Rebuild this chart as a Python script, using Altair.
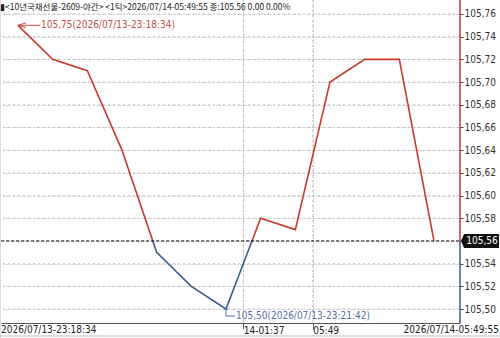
import altair as alt
import pandas as pd

# ---- data ----
idx = list(range(13))
prices = [105.75, 105.72, 105.71, 105.64, 105.55, 105.52, 105.50,
          105.58, 105.57, 105.70, 105.72, 105.72, 105.56]
y_ticks = [105.50, 105.52, 105.54, 105.56, 105.58, 105.60, 105.62,
           105.64, 105.66, 105.68, 105.70, 105.72, 105.74, 105.76]
x_domain = [-0.49, 12.75]
y_domain = [105.4877, 105.7723]
mid_ticks = [6.5, 8.5]
mid_labels = ["14-01:37", "05:49"]
first_time = "2026/07/13-23:18:34"
last_time = "2026/07/14-05:49:55"
min_time = "2026/07/13-23:21:42"
header = "▮<10년국채선물-2609-야간> <1틱>2026/07/14-05:49:55 종:105.56 0.00 0.00%"

RED = "#c83a2e"
BLUE = "#3d5b8e"
RED_T = "#c0504a"
BLUE_T = "#55709f"
FONT = "DejaVu Sans Condensed"
KFONT = "Noto Sans CJK KR"

W, H = 459, 323

df = pd.DataFrame({"i": idx, "p": prices})
last_price = prices[-1]
hi = max(prices)
lo = min(prices)
hi_i = prices.index(hi)
lo_i = prices.index(lo)
split = (hi - last_price) / (hi - lo)

def fmt(v):
    return f"{v:.2f}".replace(".", ",")

label_expr = " : ".join(
    [f"datum.value == {t} ? '{l}'" for t, l in zip(mid_ticks, mid_labels)] + ["''"]
)
y_label_expr = (f"abs(datum.value - {last_price}) < 0.001 ? '' : "
                "replace(format(datum.value, '.2f'), '.', ',')")

x_scale = alt.Scale(domain=x_domain, nice=False, zero=False)
y_scale = alt.Scale(domain=y_domain, nice=False, zero=False)

x_axis = alt.Axis(values=mid_ticks, labelExpr=label_expr, title=None,
                  grid=True, gridDash=[1, 2], gridColor="#9e9e9e", gridWidth=1,
                  domainColor="#555", tickColor="#555", tickSize=6,
                  labelAlign="left", labelPadding=-4, labelFontSize=10,
                  labelOverlap=False, labelFont=FONT, labelColor="#222")
y_axis = alt.Axis(orient="right", values=y_ticks, labelExpr=y_label_expr,
                  title=None, grid=True, gridDash=[1, 2], gridColor="#a6a6a6",
                  gridWidth=1,
                  labelOverlap=False, labelFlush=False, labelBound=False,
                  domain=False, tickSize=3, tickColor="#444", labelPadding=1,
                  labelFontSize=10, labelFont=FONT, labelColor="#333")


def XD(v):
    return alt.X(datum=v, type="quantitative", scale=x_scale, axis=x_axis)


def YD(v):
    return alt.Y(datum=v, type="quantitative", scale=y_scale, axis=y_axis)


grad = alt.Gradient(gradient="linear", x1=0, x2=0, y1=0, y2=1,
                    stops=[alt.GradientStop(color=RED, offset=0),
                           alt.GradientStop(color=RED, offset=split),
                           alt.GradientStop(color=BLUE, offset=split),
                           alt.GradientStop(color=BLUE, offset=1)])

# dotted gridlines drawn from the tick lists
hgrid = alt.Chart(pd.DataFrame({"p": y_ticks})).mark_rule(
    color="#c6c6c6", strokeDash=[2, 3], strokeWidth=1).encode(
    y=alt.Y("p:Q", scale=y_scale, axis=y_axis))
vgrid = alt.Chart(pd.DataFrame({"i": mid_ticks})).mark_rule(
    color="#c6c6c6", strokeDash=[2, 3], strokeWidth=1).encode(
    x=alt.X("i:Q", scale=x_scale, axis=x_axis))

line = alt.Chart(df).mark_line(stroke=grad, strokeWidth=1.6).encode(
    x=alt.X("i:Q", scale=x_scale, axis=x_axis),
    y=alt.Y("p:Q", scale=y_scale, axis=y_axis))

one = alt.Chart(pd.DataFrame({"k": [0]}))

ref = one.mark_rule(color="#111", strokeDash=[3, 2], strokeWidth=1).encode(
    y=YD(last_price), x=alt.value(0), x2=alt.value(W))
axis_red = one.mark_rule(color=RED, strokeWidth=1.5).encode(
    x=alt.value(W), y=YD(last_price), y2=alt.value(0))
axis_blue = one.mark_rule(color=BLUE, strokeWidth=1.5).encode(
    x=alt.value(W), y=YD(last_price), y2=alt.value(H))

badge = one.mark_point(shape="M -1 0 L -0.84 -0.37 L 1 -0.37 L 1 0.37 L -0.84 0.37 Z",
                       filled=True, color="#111", opacity=1, size=1444).encode(
    x=alt.value(W + 20), y=YD(last_price))
badge_t = one.mark_text(color="white", fontSize=10, font=FONT, align="center",
                        baseline="middle").encode(
    x=alt.value(W + 22), y=YD(last_price), text=alt.value(fmt(last_price)))

# max annotation
hi_rule = one.mark_rule(color=RED_T, strokeWidth=1, x2Offset=22).encode(
    x=XD(hi_i), x2=alt.X2(datum=hi_i), y=YD(hi))
hi_arrow = one.mark_point(shape="M 1 -0.6 L -1 0 L 1 0.6", filled=False, color=RED_T,
                          strokeWidth=1, size=64, opacity=1, xOffset=4).encode(
    x=XD(hi_i), y=YD(hi))
hi_text = one.mark_text(color=RED_T, fontSize=10, font=FONT, align="left",
                        baseline="middle", dx=23).encode(
    x=XD(hi_i), y=YD(hi), text=alt.value(f"{fmt(hi)}({first_time})"))

# min annotation
lo_v = one.mark_rule(color=BLUE_T, strokeWidth=1, y2Offset=7).encode(
    x=XD(lo_i), y=YD(lo), y2=alt.Y2(datum=lo))
lo_h = one.mark_rule(color=BLUE_T, strokeWidth=1, x2Offset=9, yOffset=7).encode(
    x=XD(lo_i), x2=alt.X2(datum=lo_i), y=YD(lo))
lo_tick = one.mark_rule(color=BLUE_T, strokeWidth=1, xOffset=-2, x2Offset=2).encode(
    x=XD(lo_i), x2=alt.X2(datum=lo_i), y=YD(lo))
lo_text = one.mark_text(color=BLUE_T, fontSize=10, font=FONT, align="left",
                        baseline="middle", dx=10, dy=7).encode(
    x=XD(lo_i), y=YD(lo), text=alt.value(f"{fmt(lo)}({min_time})"))

# header and edge labels
head = one.mark_text(color="#222", fontSize=8.5, font=KFONT, align="left",
                     baseline="middle").encode(
    x=alt.value(-1), y=alt.value(7), text=alt.value(header))
left_lab = one.mark_text(color="#222", fontSize=10, font=FONT, align="left",
                         baseline="middle").encode(
    x=alt.value(0), y=alt.value(H + 7), text=alt.value(first_time))
right_lab = one.mark_text(color="#222", fontSize=10, font=FONT, align="right",
                          baseline="middle").encode(
    x=alt.value(W + 39), y=alt.value(H + 7), text=alt.value(last_time))
left_border = one.mark_rule(color="#bbbbbb").encode(
    x=alt.value(-1), y=alt.value(0), y2=alt.value(H + 15))
bottom_border = one.mark_rule(color="#bbbbbb").encode(
    y=alt.value(H + 13), x=alt.value(-1), x2=alt.value(W + 41))

chart = alt.layer(
    hgrid, vgrid, line, ref, axis_red, axis_blue, badge, badge_t,
    hi_rule, hi_arrow, hi_text, lo_v, lo_h, lo_tick, lo_text,
    head, left_lab, right_lab, left_border, bottom_border
).properties(
    width=W, height=H,
    padding={"left": 1, "top": 0, "right": 40, "bottom": 15},
    autosize="none",
    background="white",
).configure_view(stroke=None)

chart.save("out.html", embed_options={"renderer": "svg", "actions": False})
